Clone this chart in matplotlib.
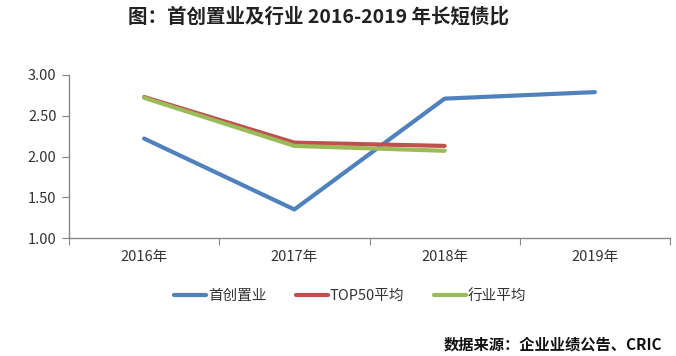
import matplotlib
matplotlib.use("Agg")
import matplotlib.pyplot as plt
import numpy as np

plt.rcParams['font.family'] = ['Noto Sans CJK SC', 'DejaVu Sans']

years = ["2016年", "2017年", "2018年", "2019年"]
shouchuang = [2.22, 1.35, 2.71, 2.79]
top50 = [2.73, 2.17, 2.13]
industry = [2.72, 2.13, 2.07]
series_names = ["首创置业", "TOP50平均", "行业平均"]
colors = ["#4F81BD", "#C0504D", "#9BBB59"]

fig = plt.figure(figsize=(6.76, 3.56), dpi=100)
ax = fig.add_axes([69/676, 1-238/356, (670-69)/676, (238-75)/356])

x = np.arange(len(years))
lw = 3.0
ax.plot(x, shouchuang, color=colors[0], lw=lw, solid_capstyle='round', solid_joinstyle='round', label=series_names[0])
ax.plot(x[:len(top50)], top50, color=colors[1], lw=lw, solid_capstyle='round', solid_joinstyle='round', label=series_names[1])
ax.plot(x[:len(industry)], industry, color=colors[2], lw=lw, solid_capstyle='round', solid_joinstyle='round', label=series_names[2])

ax.set_xlim(-0.5, len(years) - 0.5)
ax.set_ylim(1.0, 3.0)
ax.set_yticks([1.0, 1.5, 2.0, 2.5, 3.0])
ax.set_yticklabels([f"{v:.2f}" for v in [1.0, 1.5, 2.0, 2.5, 3.0]])

ax.set_xticks(np.arange(-0.5, len(years), 1.0))
ax.set_xticklabels([])
ax.set_xticks(x, minor=True)
ax.set_xticklabels(years, minor=True)
ax.tick_params(axis='x', which='major', length=5, color='#868686', direction='out')
ax.tick_params(axis='x', which='minor', length=0, pad=9, labelsize=10.5, labelcolor='#333333')
ax.tick_params(axis='y', length=5, color='#868686', labelsize=10.5, labelcolor='#333333', pad=4)

for s in ['top', 'right']:
    ax.spines[s].set_visible(False)
for s in ['left', 'bottom']:
    ax.spines[s].set_color('#868686')
    ax.spines[s].set_linewidth(1.0)

fig.text(318/676, 1-17/356, "图：首创置业及行业 2016-2019 年长短债比", ha='center', va='center',
         fontsize=14, fontweight='bold', color='#222222')

leg = fig.legend(loc='center', bbox_to_anchor=(350/676, 1-296/356), ncol=3, frameon=False,
                 fontsize=10.5, handlelength=2.2, columnspacing=2.0, handletextpad=0.15)
for t in leg.get_texts():
    t.set_color('#333333')

fig.text(662/676, 1-345/356, "数据来源：企业业绩公告、CRIC", ha='right', va='center',
         fontsize=11, fontweight='bold', color='#111111')

fig.savefig("out.png", dpi=100)
